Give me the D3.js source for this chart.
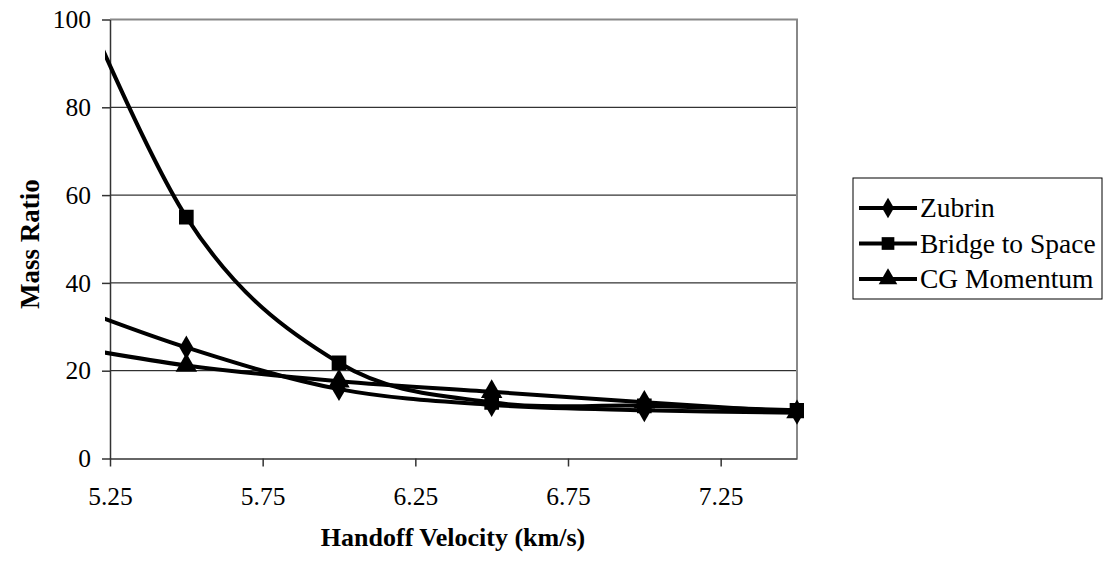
<!DOCTYPE html>
<html>
<head>
<meta charset="utf-8">
<script src="https://cdn.jsdelivr.net/npm/d3@7"></script>
<style>
  body { margin: 0; background: #fff; }
  text { font-family: "Liberation Serif", "Times New Roman", serif; fill: #000; }
</style>
</head>
<body>
<div id="chart"></div>
<script>
// Handoff velocity in km/s (the 5.0 point only feeds the curve entering the left edge)
var velocity = [5.0, 5.5, 6.0, 6.5, 7.0, 7.5];

// Mass ratio per architecture
var zubrin = [38, 25.3, 15.8, 12.2, 11.0, 10.4];
var bridgeToSpace = [130, 55, 21.8, 12.8, 12.0, 11.0];
var cgMomentum = [27, 21.2, 17.6, 15.2, 12.8, 10.6];

var seriesNames = ["Zubrin", "Bridge to Space", "CG Momentum"];
var markerTypes = [d3.symbolDiamond, d3.symbolSquare, d3.symbolTriangle];
var markerSizes = [165, 215, 200];
var xTicks = [5.25, 5.75, 6.25, 6.75, 7.25];
var yTicks = [0, 20, 40, 60, 80, 100];

var width = 1110, height = 562;
var margin = {top: 19.5, left: 110, right: 313, bottom: 103.5};

var svg = d3.select("#chart").append("svg")
    .attr("width", width)
    .attr("height", height);

var x = d3.scaleLinear().domain([5.25, 7.5]).range([margin.left, width - margin.right]);
var y = d3.scaleLinear().domain([0, 100]).range([height - margin.bottom, margin.top]);

// horizontal gridlines
svg.append("g")
    .selectAll("line")
    .data(yTicks.filter(d => d > 0 && d < 100))
    .enter().append("line")
    .attr("x1", x.range()[0]).attr("x2", x.range()[1])
    .attr("y1", d => y(d)).attr("y2", d => y(d))
    .style("stroke", "#000").style("stroke-width", 1);

// gray frame on top and right
svg.append("path")
    .attr("d", "M" + x.range()[0] + "," + y(100) + "H" + x.range()[1] + "V" + y(0))
    .style("fill", "none").style("stroke", "#888").style("stroke-width", 2);

// axes
var yAxis = svg.append("g")
    .attr("transform", "translate(" + margin.left + ",0)")
    .call(d3.axisLeft(y).tickValues(yTicks).tickSize(8).tickSizeOuter(0).tickPadding(11));
var xAxis = svg.append("g")
    .attr("transform", "translate(0," + y(0) + ")")
    .call(d3.axisBottom(x).tickValues(xTicks).tickSize(8).tickSizeOuter(0).tickPadding(20)
        .tickFormat(d3.format(".2f")));

[yAxis, xAxis].forEach(function(a) {
  a.select(".domain").style("stroke", "#333").style("stroke-width", 1.5);
  a.selectAll(".tick line").style("stroke", "#333").style("stroke-width", 1.5);
  a.selectAll("text").style("font-family", "Liberation Serif").style("font-size", "25.5px");
});

// axis titles
svg.append("text")
    .attr("transform", "translate(39," + ((y(0) + y(100)) / 2 + 5) + ") rotate(-90)")
    .attr("text-anchor", "middle")
    .style("font-size", "27px").style("font-weight", "bold")
    .text("Mass Ratio");
svg.append("text")
    .attr("x", 453).attr("y", 546)
    .attr("text-anchor", "middle")
    .style("font-size", "26px").style("font-weight", "bold")
    .text("Handoff Velocity (km/s)");

// series lines, clipped to the plot area
svg.append("clipPath").attr("id", "plotClip")
  .append("rect")
    .attr("x", x.range()[0] - 5).attr("y", y(100))
    .attr("width", x.range()[1] - x.range()[0] + 12).attr("height", y(0) - y(100) + 4);

var data = [zubrin, bridgeToSpace, cgMomentum].map(function(vals, i) {
  return { name: seriesNames[i], symbol: markerTypes[i], size: markerSizes[i],
           points: vals.map((v, j) => ({ x: velocity[j], y: v })) };
});

var line = d3.line()
    .x(d => x(d.x))
    .y(d => y(d.y))
    .curve(d3.curveCardinal.tension(0));

var plot = svg.append("g").attr("clip-path", "url(#plotClip)");

plot.selectAll("path.series")
    .data(data)
    .enter().append("path")
    .attr("class", "series")
    .attr("d", d => line(d.points))
    .style("fill", "none").style("stroke", "#000").style("stroke-width", 4);

data.forEach(function(s) {
  plot.selectAll(null)
      .data(s.points)
      .enter().append("path")
      .attr("transform", d => "translate(" + x(d.x) + "," + y(d.y) + ")")
      .attr("d", d3.symbol().type(s.symbol).size(s.size))
      .style("fill", "#000");
});

// legend
var legend = svg.append("g").attr("transform", "translate(853,178)");
legend.append("rect")
    .attr("width", 249).attr("height", 121)
    .style("fill", "#fff").style("stroke", "#000").style("stroke-width", 1);

var item = legend.selectAll("g.item")
    .data(data)
    .enter().append("g")
    .attr("class", "item")
    .attr("transform", (d, i) => "translate(0," + (30 + i * 35.5) + ")");
item.append("line")
    .attr("x1", 6).attr("x2", 64)
    .style("stroke", "#000").style("stroke-width", 4);
item.append("path")
    .attr("transform", "translate(35,0)")
    .attr("d", d => d3.symbol().type(d.symbol).size(d.size * 0.75)())
    .style("fill", "#000");
item.append("text")
    .attr("x", 67).attr("y", 9)
    .style("font-size", "27.5px")
    .text(d => d.name);
</script>
</body>
</html>
